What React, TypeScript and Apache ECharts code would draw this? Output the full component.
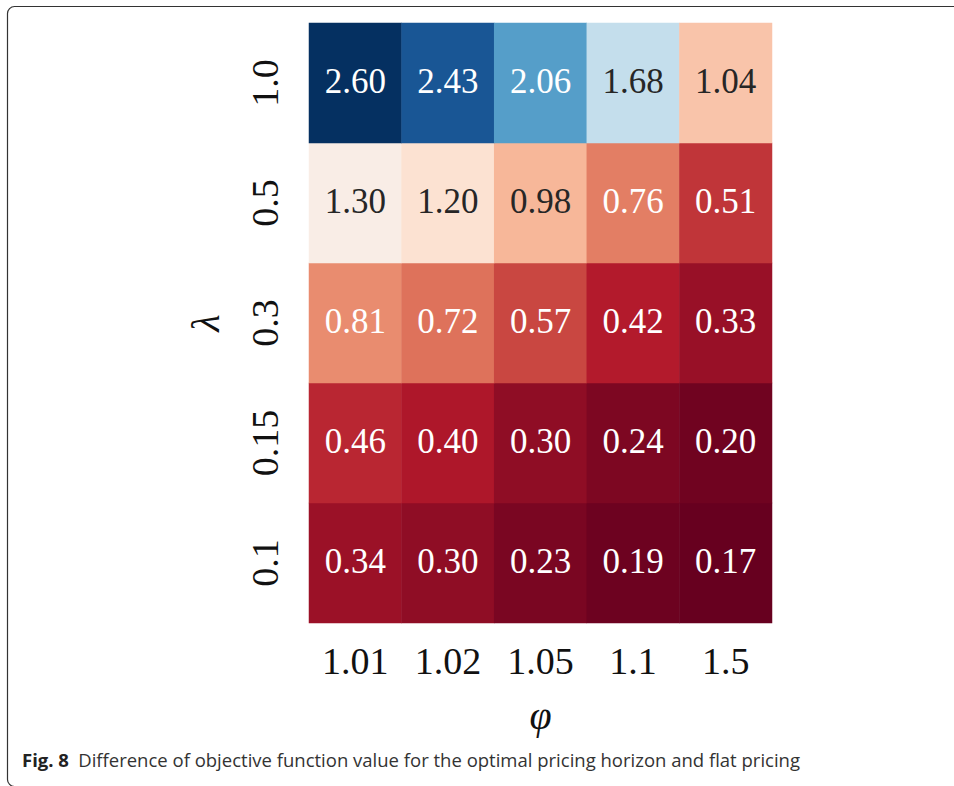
import React, { useEffect, useRef } from "react";
import * as echarts from "echarts";

const phiLabels = ["1.01", "1.02", "1.05", "1.1", "1.5"];
const lambdaLabels = ["0.1", "0.15", "0.3", "0.5", "1.0"]; // bottom to top
// rows: lambda (bottom to top), columns: phi
const row01 = [0.34, 0.3, 0.23, 0.19, 0.17];
const row015 = [0.46, 0.4, 0.3, 0.24, 0.2];
const row03 = [0.81, 0.72, 0.57, 0.42, 0.33];
const row05 = [1.3, 1.2, 0.98, 0.76, 0.51];
const row10 = [2.6, 2.43, 2.06, 1.68, 1.04];
const rows = [row01, row015, row03, row05, row10];
const rdBuReversed = [
  "#67001f", "#b2182b", "#d6604d", "#f4a582", "#fddbc7", "#f7f7f7",
  "#d1e5f0", "#92c5de", "#4393c3", "#2166ac", "#053061",
];
const caption = "Difference of objective function value for the optimal pricing horizon and flat pricing";

export default function App() {
  const ref = useRef<HTMLDivElement>(null);
  useEffect(() => {
    document.body.style.margin = "0";
    if (!ref.current) return;
    const chart = echarts.init(ref.current, null, { renderer: "svg" });
    const all = rows.flat();
    const vmin = Math.min(...all);
    const vmax = Math.max(...all);
    const data: any[] = [];
    rows.forEach((r, yi) =>
      r.forEach((v, xi) => {
        const dark = v > 0.9 && v < 1.9;
        data.push({
          value: [xi, yi, v],
          label: { color: dark ? "#262626" : "#ffffff" },
        });
      })
    );
    const serif = "'Liberation Serif', 'DejaVu Serif', serif";
    const sans = "'Open Sans', 'Noto Sans', sans-serif";
    chart.setOption({
      animation: false,
      grid: { left: 309, top: 23, width: 463, height: 600 },
      xAxis: {
        type: "category",
        data: phiLabels,
        axisLine: { show: false },
        axisTick: { show: false },
        splitLine: { show: false },
        axisLabel: { fontFamily: serif, fontSize: 38, color: "#111", margin: 19 },
        name: "φ",
        nameLocation: "middle",
        nameGap: 72,
        nameTextStyle: { fontFamily: serif, fontStyle: "italic", fontSize: 40, color: "#111" },
      },
      yAxis: {
        type: "category",
        data: lambdaLabels,
        axisLine: { show: false },
        axisTick: { show: false },
        splitLine: { show: false },
        axisLabel: { fontFamily: serif, fontSize: 38, color: "#111", rotate: 90, margin: 25 },
        name: "λ",
        nameLocation: "middle",
        nameRotate: 90,
        nameGap: 84,
        nameTextStyle: { fontFamily: serif, fontStyle: "italic", fontSize: 40, color: "#111" },
      },
      visualMap: {
        show: false,
        min: vmin,
        max: vmax,
        dimension: 2,
        inRange: { color: rdBuReversed },
      },
      series: [
        {
          type: "heatmap",
          data,
          label: {
            show: true,
            fontFamily: serif,
            fontSize: 35,
            offset: [0, -2],
            formatter: (p: any) => p.value[2].toFixed(2),
          },
          emphasis: { disabled: true },
        },
      ],
      graphic: [
        {
          type: "rect",
          shape: { x: 7.5, y: 6.5, width: 1100, height: 780, r: 7 },
          style: { fill: "none", stroke: "#333", lineWidth: 1.2 },
          silent: true,
        },
        {
          type: "text",
          left: 22,
          top: 750,
          style: {
            rich: {
              b: { fontFamily: sans, fontWeight: "bold", fontSize: 18.5, fill: "#222", padding: [0, 6, 0, 0] },
              n: { fontFamily: sans, fontSize: 18.5, fill: "#333" },
            },
            text: "{b|Fig. 8} {n|" + caption + "}",
          },
        },
      ],
    });
    return () => chart.dispose();
  }, []);
  return <div ref={ref} style={{ width: 954, height: 786 }} />;
}
